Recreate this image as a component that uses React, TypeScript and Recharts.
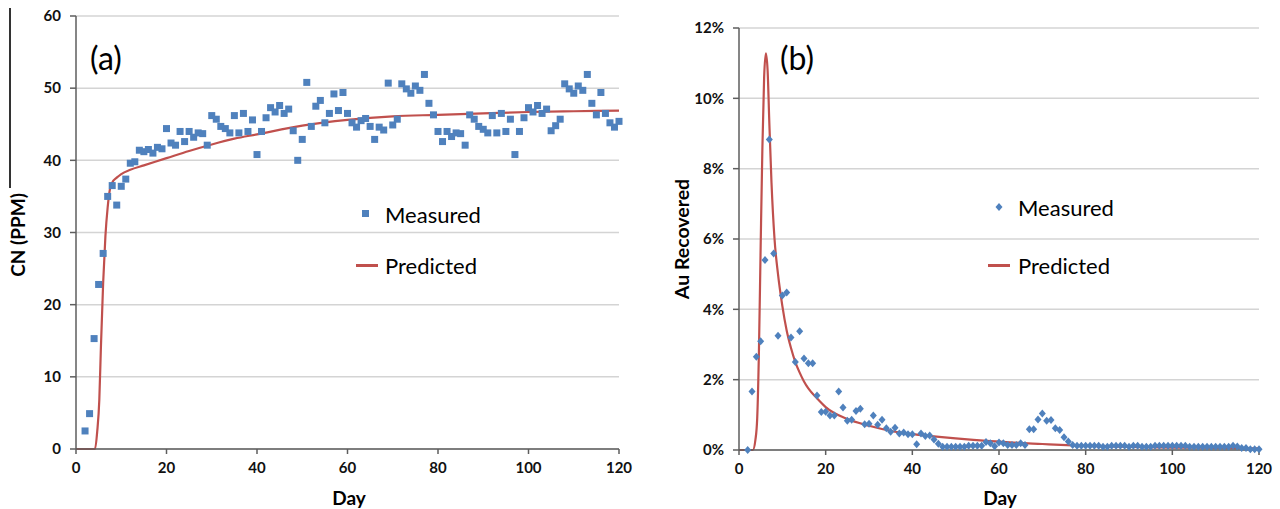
import React from "react";
import { ComposedChart, Scatter, Line, XAxis, YAxis, CartesianGrid } from "recharts";

const FONT = "Lato, 'Open Sans', sans-serif";
const RED = "#C0504D";
const BLUE = "#4F81BD";

// measured values, one per day starting at day 2
const firstDay = 2;

const cnMeasured = [
  2.5, 4.9, 15.3, 22.8, 27.1, 35.0, 36.5, 33.8, 36.4, 37.4,
  39.6, 39.8, 41.4, 41.2, 41.5, 41.0, 41.8, 41.6, 44.4, 42.4,
  42.1, 44.0, 42.6, 44.0, 43.2, 43.8, 43.7, 42.1, 46.2, 45.7,
  44.7, 44.4, 43.8, 46.2, 43.8, 46.5, 44.0, 45.6, 40.8, 44.0,
  45.9, 47.3, 46.7, 47.6, 46.5, 47.1, 44.1, 40.0, 42.9, 50.8,
  44.7, 47.5, 48.3, 45.2, 46.5, 49.2, 46.9, 49.4, 46.5, 45.2,
  44.6, 45.5, 45.8, 44.7, 42.9, 44.6, 44.2, 50.7, 44.9, 45.7,
  50.6, 49.9, 49.3, 50.3, 49.7, 51.9, 47.9, 46.3, 44.0, 42.6,
  44.0, 43.3, 43.8, 43.7, 42.1, 46.3, 45.7, 44.7, 44.3, 43.8,
  46.2, 43.8, 46.5, 44.0, 45.7, 40.8, 44.0, 45.9, 47.3, 46.7,
  47.6, 46.5, 47.1, 44.1, 44.8, 45.7, 50.6, 49.9, 49.3, 50.3,
  49.7, 51.9, 47.9, 46.3, 49.4, 46.5, 45.2, 44.6, 45.4,
];

const auMeasured = [
  0, 1.66, 2.65, 3.09, 5.4, 8.83, 5.59, 3.25, 4.39, 4.48,
  3.2, 2.5, 3.38, 2.6, 2.47, 2.47, 1.55, 1.08, 1.09, 0.98,
  0.98, 1.66, 1.21, 0.83, 0.86, 1.11, 1.17, 0.73, 0.75, 0.98,
  0.72, 0.86, 0.62, 0.52, 0.63, 0.47, 0.5, 0.45, 0.45, 0.16,
  0.47, 0.4, 0.41, 0.3, 0.18, 0.09, 0.09, 0.09, 0.09, 0.09,
  0.09, 0.12, 0.12, 0.12, 0.12, 0.23, 0.19, 0.11, 0.21, 0.19,
  0.14, 0.14, 0.14, 0.19, 0.14, 0.59, 0.59, 0.87, 1.04, 0.83,
  0.85, 0.62, 0.57, 0.36, 0.24, 0.14, 0.12, 0.12, 0.12, 0.12,
  0.12, 0.12, 0.09, 0.09, 0.12, 0.12, 0.12, 0.12, 0.09, 0.12,
  0.12, 0.09, 0.09, 0.09, 0.12, 0.12, 0.12, 0.12, 0.12, 0.12,
  0.12, 0.12, 0.09, 0.09, 0.09, 0.09, 0.09, 0.09, 0.09, 0.09,
  0.09, 0.09, 0.12, 0.1, 0.06, 0.06, 0.02, 0.02, 0.02,
];

// predicted curves: [day, value]
const cnPredicted = [
  [0, 0], [4.2, 0], [4.7, 2.5], [5.15, 6.8], [5.5, 14], [6, 23], [6.5, 29.5], [7, 33.5],
  [7.5, 36], [8, 36.9], [9, 37.6], [10, 38.1], [12, 38.7], [15, 39.3], [20, 40.3],
  [25, 41.3], [30, 42.2], [35, 43], [40, 43.6], [50, 44.8], [60, 45.6], [70, 46.1],
  [80, 46.3], [90, 46.5], [100, 46.7], [110, 46.8], [120, 46.9],
];

const auPredicted = [
  [0, 0], [3.2, 0], [3.8, 0.3], [4.2, 0.9], [4.6, 2.8], [5, 5.8], [5.4, 8.6], [5.8, 10.6],
  [6.2, 11.28], [6.6, 10.8], [7, 9.3], [7.5, 7.6], [8.2, 6.0], [9, 5.0], [10, 4.1],
  [11, 3.4], [12, 2.9], [13, 2.5], [14, 2.2], [15, 1.95], [16, 1.75], [18, 1.47],
  [20, 1.22], [25, 0.88], [30, 0.69], [36, 0.52], [40, 0.45], [45, 0.39], [50, 0.33],
  [58, 0.25], [70, 0.17], [77, 0.13], [90, 0.09], [100, 0.07], [110, 0.06], [120, 0.05],
];

const dayTicks = [0, 20, 40, 60, 80, 100, 120];
const cnTicks = [0, 10, 20, 30, 40, 50, 60];
const auTicks = [0, 2, 4, 6, 8, 10, 12];

const toRows = (vals: number[]) => vals.map((v, i) => ({ day: firstDay + i, v }));
const toPairs = (pts: number[][]) => pts.map(([day, v]) => ({ day, v }));

const tickStyle = { fill: "#111", fontSize: 15, fontWeight: 700, fontFamily: FONT };
const axisStroke = { stroke: "#5e5e5e", strokeWidth: 1.5 };

const SquareDot = (p: any) => (
  <rect x={p.cx - 3.5} y={p.cy - 3.5} width={7} height={7} fill={BLUE} />
);

const DiamondDot = (p: any) => (
  <polygon
    points={`${p.cx},${p.cy - 4} ${p.cx + 3.5},${p.cy} ${p.cx},${p.cy + 4} ${p.cx - 3.5},${p.cy}`}
    fill={BLUE}
  />
);

const abs = (extra: React.CSSProperties): React.CSSProperties => ({
  position: "absolute",
  fontFamily: FONT,
  color: "#000",
  whiteSpace: "nowrap",
  ...extra,
});

const App = () => {
  return (
    <div style={{ position: "absolute", left: 0, top: 0, width: 1280, height: 509, background: "#fff", overflow: "hidden" }}>
      {/* left panel */}
      <div style={{ position: "absolute", left: 0, top: 0 }}>
        <ComposedChart width={640} height={509} margin={{ top: 16, right: 21, left: 0, bottom: 0 }}>
          <CartesianGrid vertical={false} stroke="#d4d4d4" strokeWidth={1.5} />
          <XAxis
            dataKey="day"
            type="number"
            domain={[0, 120]}
            ticks={dayTicks}
            height={60}
            tick={tickStyle}
            tickSize={5}
            tickMargin={8}
            axisLine={axisStroke}
            tickLine={axisStroke}
          />
          <YAxis
            type="number"
            domain={[0, 60]}
            ticks={cnTicks}
            width={76}
            tick={tickStyle}
            tickSize={6}
            tickMargin={9}
            axisLine={axisStroke}
            tickLine={axisStroke}
          />
          <Line
            data={toPairs(cnPredicted)}
            dataKey="v"
            type="monotone"
            stroke={RED}
            strokeWidth={2.2}
            dot={false}
            activeDot={false}
            isAnimationActive={false}
          />
          <Scatter data={toRows(cnMeasured)} dataKey="v" shape={SquareDot} isAnimationActive={false} />
        </ComposedChart>
      </div>

      {/* right panel */}
      <div style={{ position: "absolute", left: 640, top: 0 }}>
        <ComposedChart width={640} height={509} margin={{ top: 28, right: 21, left: 0, bottom: 0 }}>
          <CartesianGrid vertical={false} stroke="#d4d4d4" strokeWidth={1.5} />
          <XAxis
            dataKey="day"
            type="number"
            domain={[0, 120]}
            ticks={dayTicks}
            height={59}
            tick={tickStyle}
            tickSize={5}
            tickMargin={8}
            axisLine={axisStroke}
            tickLine={axisStroke}
          />
          <YAxis
            type="number"
            domain={[0, 12]}
            ticks={auTicks}
            width={99}
            tick={tickStyle}
            tickFormatter={(v: number) => `${v}%`}
            tickSize={6}
            tickMargin={9}
            axisLine={axisStroke}
            tickLine={axisStroke}
          />
          <Line
            data={toPairs(auPredicted)}
            dataKey="v"
            type="monotone"
            stroke={RED}
            strokeWidth={2.2}
            dot={false}
            activeDot={false}
            isAnimationActive={false}
          />
          <Scatter data={toRows(auMeasured)} dataKey="v" shape={DiamondDot} isAnimationActive={false} />
        </ComposedChart>
      </div>

      {/* stray border line at far left */}
      <div style={{ position: "absolute", left: 9, top: 8, width: 1.5, height: 180, background: "#333" }} />

      {/* panel tags */}
      <div style={abs({ left: 90, top: 58, fontSize: 32, lineHeight: "32px", transform: "translateY(-50%)" })}>(a)</div>
      <div style={abs({ left: 780, top: 58, fontSize: 32, lineHeight: "32px", transform: "translateY(-50%)" })}>(b)</div>

      {/* axis titles */}
      <div style={abs({ left: 349, top: 497, fontSize: 19, fontWeight: 700, transform: "translate(-50%,-50%)" })}>Day</div>
      <div style={abs({ left: 1000, top: 497, fontSize: 19, fontWeight: 700, transform: "translate(-50%,-50%)" })}>Day</div>
      <div style={abs({ left: 17, top: 235, fontSize: 19, fontWeight: 700, transform: "translate(-50%,-50%) rotate(-90deg)" })}>CN (PPM)</div>
      <div style={abs({ left: 681, top: 239, fontSize: 19.5, fontWeight: 700, transform: "translate(-50%,-50%) rotate(-90deg)" })}>Au Recovered</div>

      {/* legend, left */}
      <div style={{ position: "absolute", left: 362, top: 210, width: 7, height: 7, background: BLUE }} />
      <div style={abs({ left: 385, top: 214, fontSize: 22, transform: "translateY(-50%)" })}>Measured</div>
      <div style={{ position: "absolute", left: 356, top: 264, width: 22, height: 2.5, background: RED }} />
      <div style={abs({ left: 385, top: 265, fontSize: 22, transform: "translateY(-50%)" })}>Predicted</div>

      {/* legend, right */}
      <svg style={{ position: "absolute", left: 994, top: 202 }} width={10} height={10}>
        <polygon points="5,1 8.5,5 5,9 1.5,5" fill={BLUE} />
      </svg>
      <div style={abs({ left: 1018, top: 207, fontSize: 22, transform: "translateY(-50%)" })}>Measured</div>
      <div style={{ position: "absolute", left: 988, top: 264, width: 22, height: 2.5, background: RED }} />
      <div style={abs({ left: 1018, top: 265, fontSize: 22, transform: "translateY(-50%)" })}>Predicted</div>
    </div>
  );
};

export default App;
